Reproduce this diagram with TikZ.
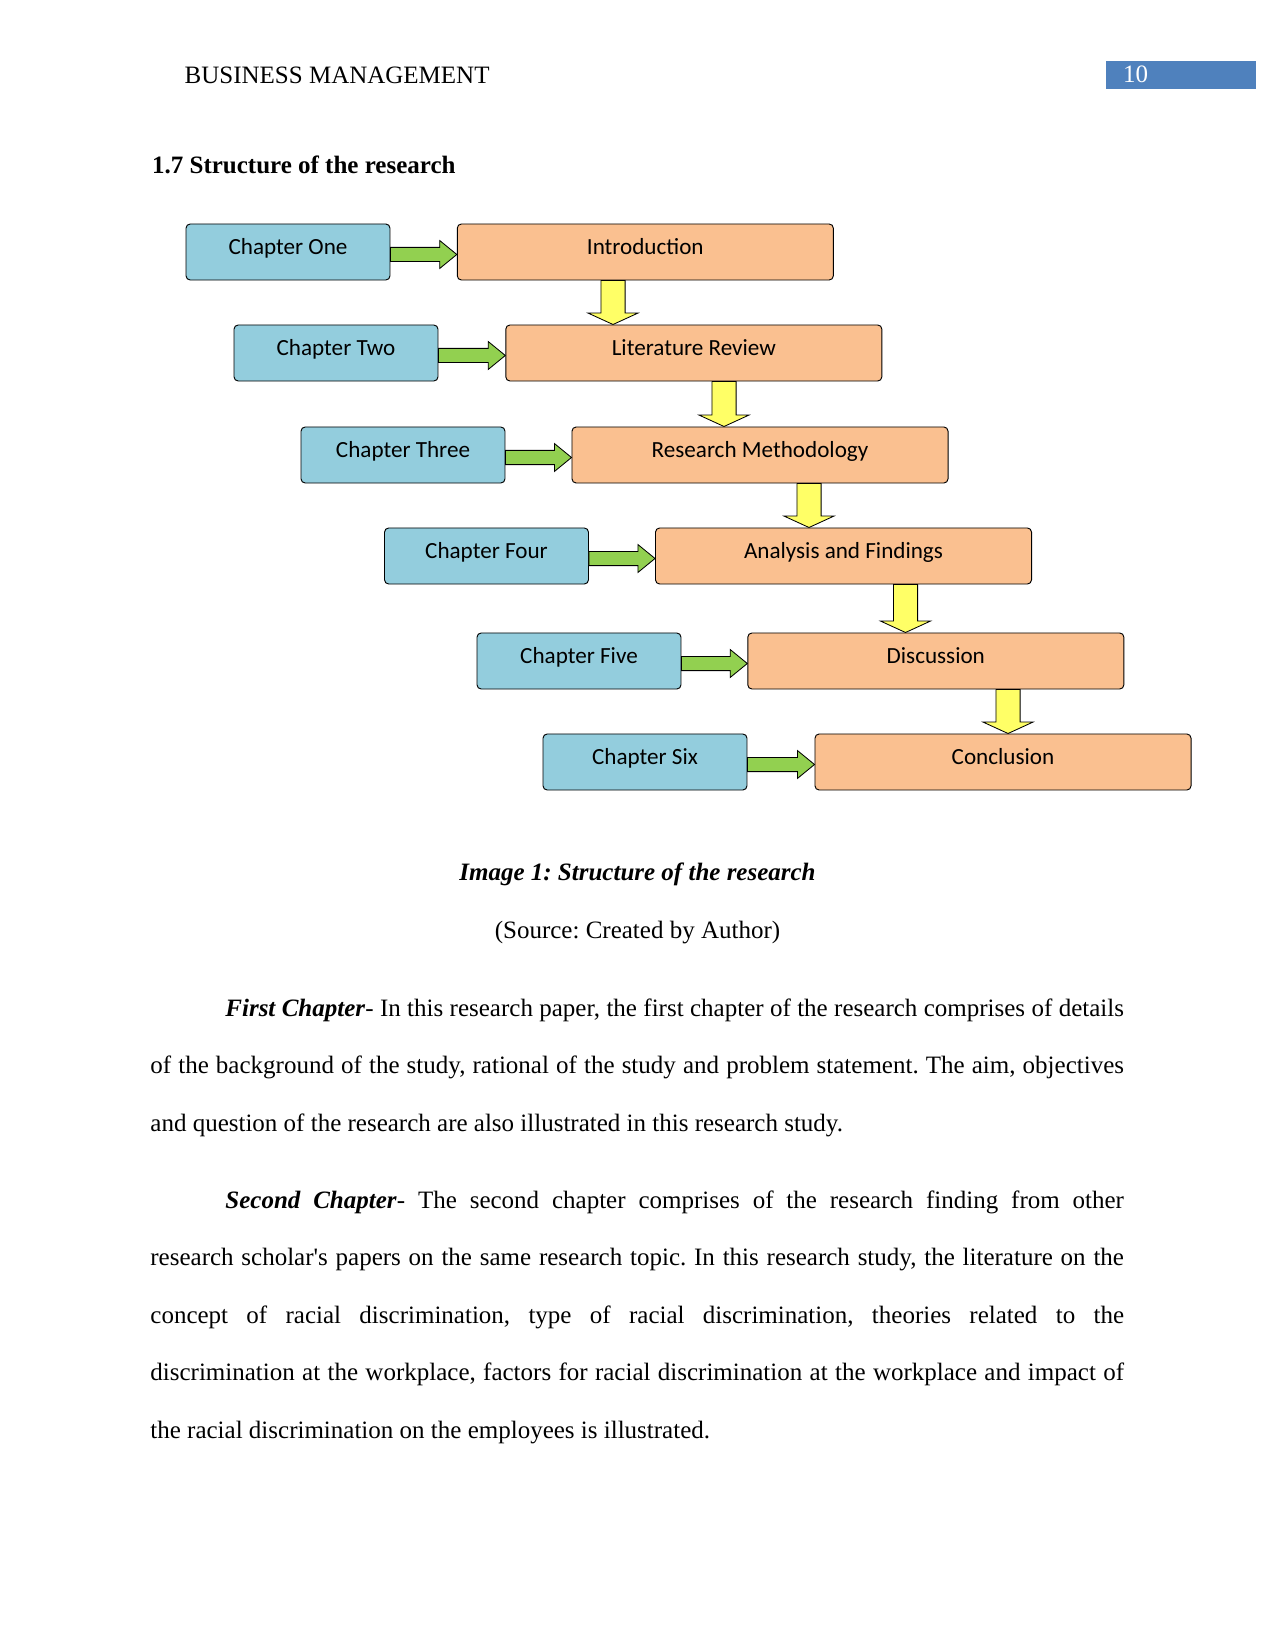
\documentclass[tikz,border=0pt]{standalone}
\usepackage{fontspec}
\setmainfont{Liberation Serif}
\newfontfamily\boxfont{Carlito}
\usepackage{tikz}
\usetikzlibrary{calc}
\frenchspacing

\definecolor{chapblue}{HTML}{93CDDD}
\definecolor{partorange}{HTML}{FAC090}
\definecolor{flowgreen}{HTML}{92D050}
\definecolor{flowyellow}{HTML}{FFFF66}
\definecolor{headblue}{HTML}{4F81BD}

% block arrow from a chapter box to its part box
\newcommand{\sidearrow}[2]{%
  \filldraw[garrow] let \p1=(#1.east), \p2=(#2.west) in
    (\x1,\y1+2.2pt) -- (\x2-8.2pt,\y1+2.2pt) -- (\x2-8.2pt,\y1+5.5pt) -- (\x2,\y1-1.2pt)
    -- (\x2-8.2pt,\y1-7.9pt) -- (\x2-8.2pt,\y1-4.6pt) -- (\x1,\y1-4.6pt) -- cycle;}
% block arrow down from one part box to the next, at column #3
\newcommand{\droparrow}[3]{%
  \filldraw[yarrow] let \p1=(#1.south), \p2=(#2.north), \p3=(#3,0) in
    (\x3-5.8pt,\y1) -- (\x3-5.8pt,\y2+5.5pt) -- (\x3-12pt,\y2+5.5pt) -- (\x3,\y2)
    -- (\x3+12pt,\y2+5.5pt) -- (\x3+5.8pt,\y2+5.5pt) -- (\x3+5.8pt,\y1) -- cycle;}

\begin{document}
\begin{tikzpicture}[
      x=0.48pt, y=-0.48pt,
      chap/.style={draw, line width=0.45pt, rounded corners=2pt, fill=chapblue,
        minimum width=97.9pt, minimum height=26.9pt, inner sep=2pt,
        font=\boxfont\fontsize{11.1}{13}\selectfont, text height=8pt, text depth=5.6pt},
      part/.style={chap, fill=partorange, minimum width=180.5pt},
      garrow/.style={fill=flowgreen, draw=black, line width=0.4pt},
      yarrow/.style={fill=flowyellow, draw=black, line width=0.4pt},
      txt/.style={inner sep=0pt, font=\fontsize{12}{14}\selectfont},
      para/.style={txt, anchor=base west, text width=467.3pt, align=justify,
        font=\fontsize{12}{27.6}\selectfont}
    ]
      \useasboundingbox (0,0) rectangle (1275,1650);

      % page head
      \node[txt, anchor=base west] (head) at (184.3,83.3) {BUSINESS MANAGEMENT};
      \fill[headblue] (1106,61) rectangle (1256,88.7);
      \node[txt, anchor=base west, text=white] (pageno) at (1122.7,82.3) {10};
      \node[txt, anchor=base west, font=\fontsize{12}{14}\selectfont\bfseries] (title) at (151.7,173.3) {1.7 Structure of the research};

      % chapters and their parts
      \node[chap] (c1) at (288,252) {Chapter One};
      \node[part] (s1) at (645.3,252) {Introduction};
      \node[chap] (c2) at (336,353) {Chapter Two};
      \node[part] (s2) at (693.8,353) {Literature Review};
      \node[chap] (c3) at (403,455) {Chapter Three};
      \node[part] (s3) at (760,455) {Research Methodology};
      \node[chap] (c4) at (486.5,556) {Chapter Four};
      \node[part] (s4) at (843.5,556) {Analysis and Findings};
      \node[chap] (c5) at (579,661) {Chapter Five};
      \node[part] (s5) at (935.8,661) {Discussion};
      \node[chap] (c6) at (645,762) {Chapter Six};
      \node[part] (s6) at (1003,762) {Conclusion};

      \sidearrow{c1}{s1}
      \sidearrow{c2}{s2}
      \sidearrow{c3}{s3}
      \sidearrow{c4}{s4}
      \sidearrow{c5}{s5}
      \sidearrow{c6}{s6}

      \droparrow{s1}{s2}{613}
      \droparrow{s2}{s3}{724}
      \droparrow{s3}{s4}{809}
      \droparrow{s4}{s5}{905.5}
      \droparrow{s5}{s6}{1008}

      % caption
      \node[txt, anchor=base, font=\fontsize{12}{14}\selectfont\bfseries\itshape] (cap) at (637.5,880.5) {Image 1: Structure of the research};
      \node[txt, anchor=base] (source) at (637.5,938) {(Source: Created by Author)};

      % body text
      \node[para] (p1) at (150,1016) {\hspace*{36pt}\textbf{\textit{First Chapter}}- In this research paper, the first chapter of the research comprises of details\linebreak
        of the background of the study, rational of the study and problem statement. The aim, objectives\linebreak
        and question of the research are also illustrated in this research study.};
      \node[para] (p2) at (150,1208) {\hspace*{36pt}\textbf{\textit{Second Chapter}}- The second chapter comprises of the research finding from other\linebreak
        research scholar\textquotesingle s papers on the same research topic. In this research study, the literature on the\linebreak
        concept of racial discrimination, type of racial discrimination, theories related to the\linebreak
        discrimination at the workplace, factors for racial discrimination at the workplace and impact of\linebreak
        the racial discrimination on the employees is illustrated.};
    \end{tikzpicture}
\end{document}
